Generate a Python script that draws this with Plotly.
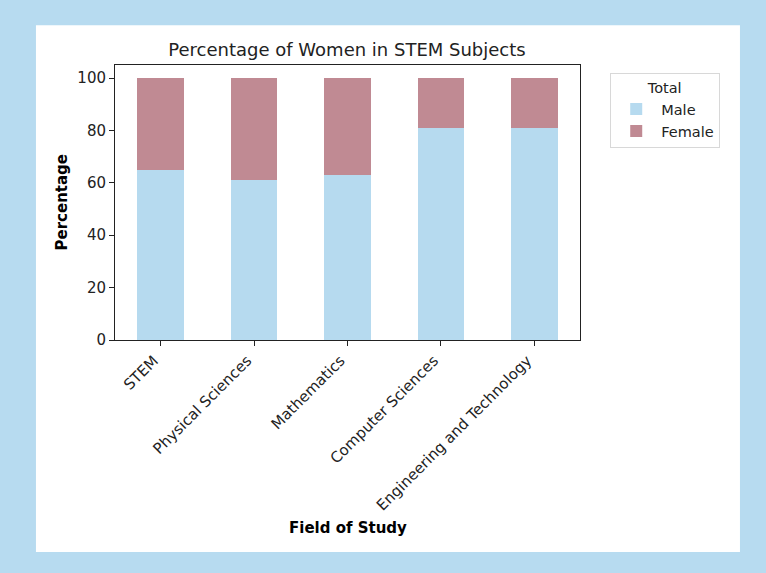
import plotly.graph_objects as go

# values
fields = ['STEM', 'Physical Sciences', 'Mathematics', 'Computer Sciences', 'Engineering and Technology']
male_pct = [65, 61, 63, 81, 81]
female_pct = [35, 39, 37, 19, 19]
y_ticks = [0, 20, 40, 60, 80, 100]

MALE_COLOR = '#b6daef'
FEMALE_COLOR = '#c08a93'
FONT = 'DejaVu Sans'

fig = go.Figure()
fig.add_trace(go.Bar(x=fields, y=male_pct, name='Male', marker_color=MALE_COLOR,
                     marker_line_width=0, width=0.5))
fig.add_trace(go.Bar(x=fields, y=female_pct, name='Female', marker_color=FEMALE_COLOR,
                     marker_line_width=0, width=0.5))

fig.update_layout(
    width=766, height=573,
    barmode='stack',
    paper_bgcolor='#b7dbf0',
    plot_bgcolor='white',
    margin=dict(l=115, r=186, t=65, b=233, autoexpand=False),
    font=dict(family=FONT, size=15, color='#222'),
    title=dict(text='Percentage of Women in STEM Subjects', x=347 / 766, xanchor='center',
               y=1 - 50 / 573, yanchor='middle', font=dict(size=18, color='#222')),
    legend=dict(
        x=1.065, y=0.97, xanchor='left', yanchor='top',
        title=dict(text='Total', side='top center', font=dict(size=14.5)),
        bgcolor='white', bordercolor='#d8d8d8', borderwidth=1,
        font=dict(size=14.5), traceorder='normal', itemwidth=40,
    ),
    # white panel inside the blue frame
    shapes=[dict(type='rect', xref='paper', yref='paper', layer='below',
                 x0=-0.17, x1=1.344, y0=-0.771, y1=1.145,
                 fillcolor='white', line_width=0)],
    annotations=[
        dict(text='<b>Percentage</b>', xref='paper', yref='paper', x=(61 - 115) / 465, y=0.5,
             xanchor='center', yanchor='middle',
             textangle=-90, showarrow=False, font=dict(size=15, color='black')),
        dict(text='<b>Field of Study</b>', xref='paper', yref='paper', x=0.5, y=(340 - 528) / 275,
             xanchor='center', yanchor='middle',
             showarrow=False, font=dict(size=15, color='black')),
    ],
)

fig.update_xaxes(range=[-0.49, 4.49], tickangle=-45, showline=True, linecolor='#222',
                 linewidth=1, mirror=True, ticks='outside', ticklen=5, tickcolor='#222',
                 showgrid=False, ticklabelshift=-7)
fig.update_yaxes(range=[0, 105], tickvals=y_ticks, showline=True, linecolor='#222',
                 linewidth=1, mirror=True, ticks='outside', ticklen=5, tickcolor='#222',
                 showgrid=False, zeroline=False)

# drop the default page margin so the figure sits at the window corner
fig.write_html('out.html', config={'displayModeBar': False},
               post_script="document.body.style.margin='0';")
